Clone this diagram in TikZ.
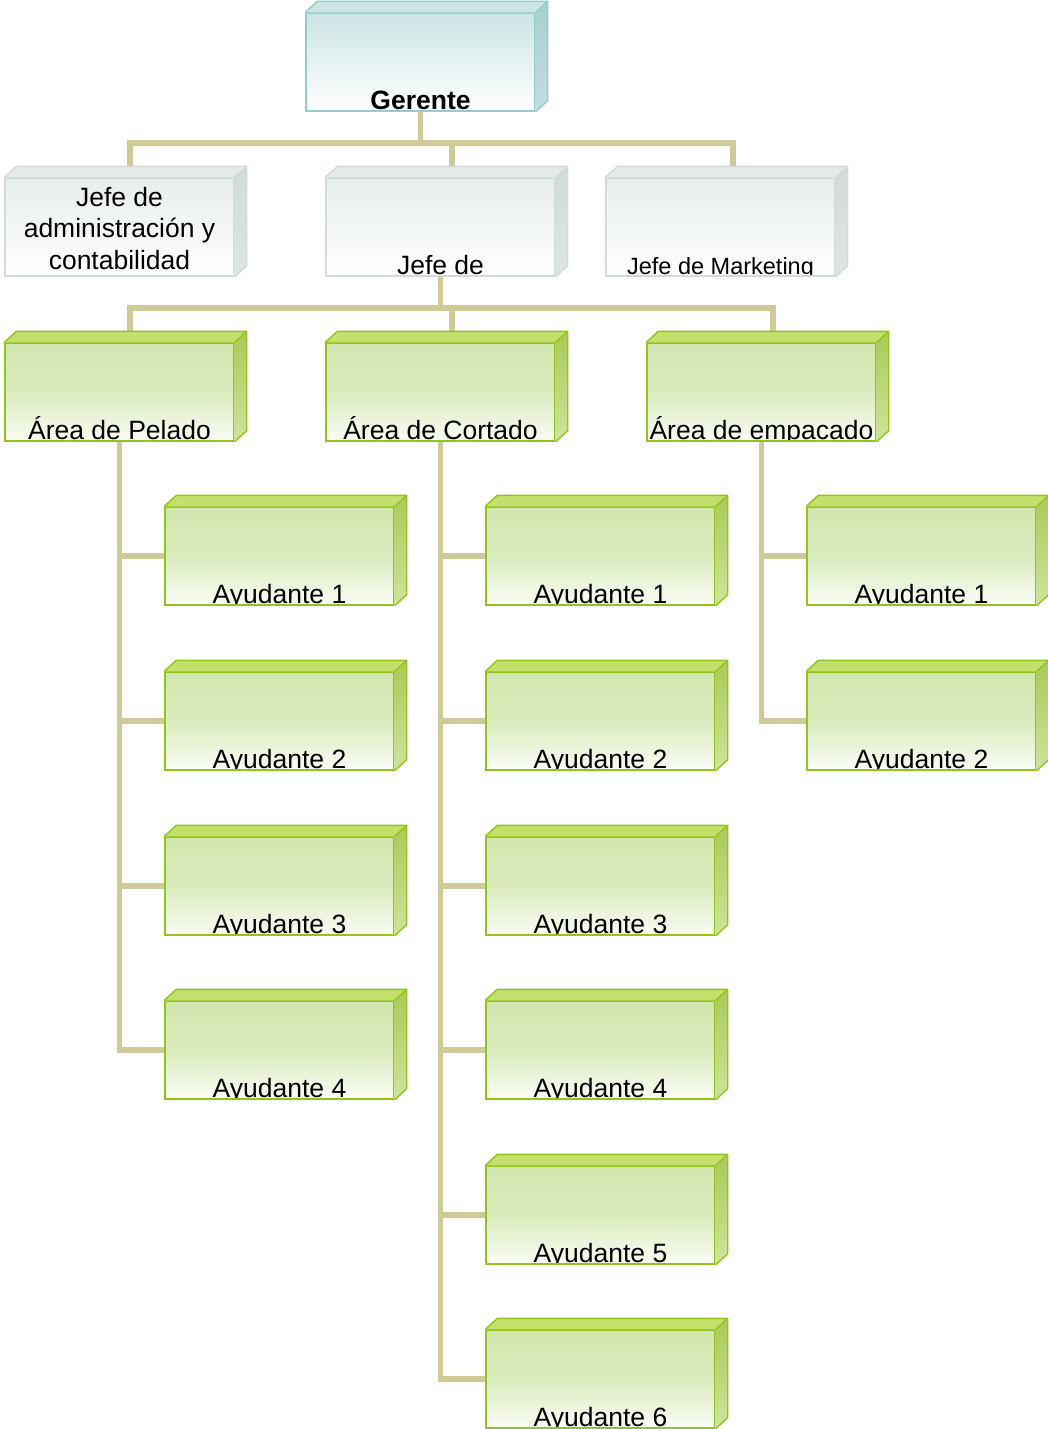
\documentclass[tikz,border=0pt]{standalone}
\usepackage{fontspec}
\setmainfont{Liberation Sans}
\usetikzlibrary{backgrounds}
% connector
\definecolor{conncol}{HTML}{CFCB98}
% teal scheme
\definecolor{tline}{HTML}{93CDCD}
\definecolor{ttop}{HTML}{CBE5E5}
\definecolor{tfront}{HTML}{CCE4E4}
\definecolor{tsidetop}{HTML}{A6CFCF}
\definecolor{tsidebot}{HTML}{C3DEDE}
% gray scheme
\definecolor{yline}{HTML}{D2DADA}
\definecolor{ytop}{HTML}{E4EAEA}
\definecolor{yfront}{HTML}{E8EDED}
\definecolor{ysidetop}{HTML}{D2DADA}
\definecolor{ysidebot}{HTML}{DFE5E5}
% green scheme
\definecolor{gline}{HTML}{92C41E}
\definecolor{gtop}{HTML}{C4DF6C}
\definecolor{gfront}{HTML}{D3E6AE}
\definecolor{gfrontmid}{HTML}{DAEBBD}
\definecolor{gfrontbot}{HTML}{FAFCF5}
\definecolor{gsidetop}{HTML}{A9CA56}
\definecolor{gsidebot}{HTML}{CFE49C}
\tikzset{
  front/.style={rectangle, minimum width=229pt, minimum height=98pt, inner sep=0pt, line width=1.4pt},
  tfrontbox/.style={front, draw=tline, top color=tfront, bottom color=white},
  yfrontbox/.style={front, draw=yline, top color=yfront, bottom color=white},
  gfrontbox/.style={front, draw=gline, top color=gfront, bottom color=gfrontbot, middle color=gfrontmid},
  lbl/.style={path picture={\node[anchor=base, inner sep=0pt, font=\fontsize{26.5}{31.5}\selectfont]
      at ([yshift=1.5pt]path picture bounding box.south) {#1};}},
  clbl/.style={path picture={\node[align=center, inner sep=0pt, font=\fontsize{26.5}{31.5}\selectfont]
      at ([yshift=-1.5pt]path picture bounding box.center) {#1};}},
  conn/.style={draw=conncol, line width=5.5pt},
}
\newcommand\boxfaces[2]{%
  \fill[#2top] (#1.north west) -- ++(12,-11) -- ([shift={(12,-11)}]#1.north east) -- (#1.north east) -- cycle;
  \shade[top color=#2sidetop, bottom color=#2sidebot] (#1.north east) -- ++(12,-11) -- ([shift={(12,-11)}]#1.south east) -- (#1.south east) -- cycle;
  \draw[#2line, line width=1.4pt, line join=round] (#1.north west) -- ++(12,-11) -- ([shift={(12,-11)}]#1.north east) -- ([shift={(12,-11)}]#1.south east) -- (#1.south east)
     (#1.north east) -- ([shift={(12,-11)}]#1.north east);
}
\begin{document}
\begin{tikzpicture}[x=1pt,y=-1pt]
\useasboundingbox (0,0) rectangle (1047,1429);
% level 1
\node[tfrontbox, lbl={\bfseries Gerente}] (g) at (420.5,62) {};
\boxfaces{g}{t}
% level 2
\node[yfrontbox, clbl={Jefe de\\administración y\\contabilidad}] (j1) at (119.5,227) {};
\boxfaces{j1}{y}
\node[yfrontbox, lbl={Jefe de}] (j2) at (440.5,227) {};
\boxfaces{j2}{y}
\node[yfrontbox, lbl={\fontsize{23.5}{23.5}\selectfont Jefe de Marketing}] (j3) at (720.5,227) {};
\boxfaces{j3}{y}
% level 3
\node[gfrontbox, lbl={Área de Pelado}] (a1) at (119.5,392) {};
\boxfaces{a1}{g}
\node[gfrontbox, lbl={Área de Cortado}] (a2) at (440.5,392) {};
\boxfaces{a2}{g}
\node[gfrontbox, lbl={Área de empacado}] (a3) at (761.5,392) {};
\boxfaces{a3}{g}
% Pelado helpers
\node[gfrontbox, lbl={Ayudante 1}] (p1) at (279.5,556) {}; \boxfaces{p1}{g}
\node[gfrontbox, lbl={Ayudante 2}] (p2) at (279.5,721) {}; \boxfaces{p2}{g}
\node[gfrontbox, lbl={Ayudante 3}] (p3) at (279.5,886) {}; \boxfaces{p3}{g}
\node[gfrontbox, lbl={Ayudante 4}] (p4) at (279.5,1050) {}; \boxfaces{p4}{g}
% Cortado helpers
\node[gfrontbox, lbl={Ayudante 1}] (c1) at (600.5,556) {}; \boxfaces{c1}{g}
\node[gfrontbox, lbl={Ayudante 2}] (c2) at (600.5,721) {}; \boxfaces{c2}{g}
\node[gfrontbox, lbl={Ayudante 3}] (c3) at (600.5,886) {}; \boxfaces{c3}{g}
\node[gfrontbox, lbl={Ayudante 4}] (c4) at (600.5,1050) {}; \boxfaces{c4}{g}
\node[gfrontbox, lbl={Ayudante 5}] (c5) at (600.5,1215) {}; \boxfaces{c5}{g}
\node[gfrontbox, lbl={Ayudante 6}] (c6) at (600.5,1379) {}; \boxfaces{c6}{g}
% Empacado helpers
\node[gfrontbox, lbl={Ayudante 1}] (e1) at (921.5,556) {}; \boxfaces{e1}{g}
\node[gfrontbox, lbl={Ayudante 2}] (e2) at (921.5,721) {}; \boxfaces{e2}{g}
% connectors
\begin{scope}[on background layer]
  \coordinate (bus1) at (420.5,143);
  \coordinate (t1) at ([shift={(10.5,-11)}]j1.north);
  \coordinate (t2) at ([shift={(11.5,-11)}]j2.north);
  \coordinate (t3) at ([shift={(12.5,-11)}]j3.north);
  \draw[conn] (g.south) -- (bus1);
  \draw[conn] (t1) -- (t1 |- bus1) -- (t3 |- bus1) -- (t3);
  \draw[conn] (t2) -- (t2 |- bus1);
  \coordinate (bus2) at (440.5,308);
  \coordinate (u1) at ([shift={(10.5,-11)}]a1.north);
  \coordinate (u2) at ([shift={(11.5,-11)}]a2.north);
  \coordinate (u3) at ([shift={(11.5,-11)}]a3.north);
  \draw[conn] (j2.south) -- (bus2);
  \draw[conn] (u1) -- (u1 |- bus2) -- (u3 |- bus2) -- (u3);
  \draw[conn] (u2) -- (u2 |- bus2);
  % Pelado column
  \draw[conn] (a1.south) |- (p4.west);
  \draw[conn] (p1.west) -- (p1.west -| a1.south);
  \draw[conn] (p2.west) -- (p2.west -| a1.south);
  \draw[conn] (p3.west) -- (p3.west -| a1.south);
  % Cortado column
  \draw[conn] (a2.south) |- (c6.west);
  \draw[conn] (c1.west) -- (c1.west -| a2.south);
  \draw[conn] (c2.west) -- (c2.west -| a2.south);
  \draw[conn] (c3.west) -- (c3.west -| a2.south);
  \draw[conn] (c4.west) -- (c4.west -| a2.south);
  \draw[conn] (c5.west) -- (c5.west -| a2.south);
  % Empacado column
  \draw[conn] (a3.south) |- (e2.west);
  \draw[conn] (e1.west) -- (e1.west -| a3.south);
\end{scope}
\end{tikzpicture}
\end{document}
